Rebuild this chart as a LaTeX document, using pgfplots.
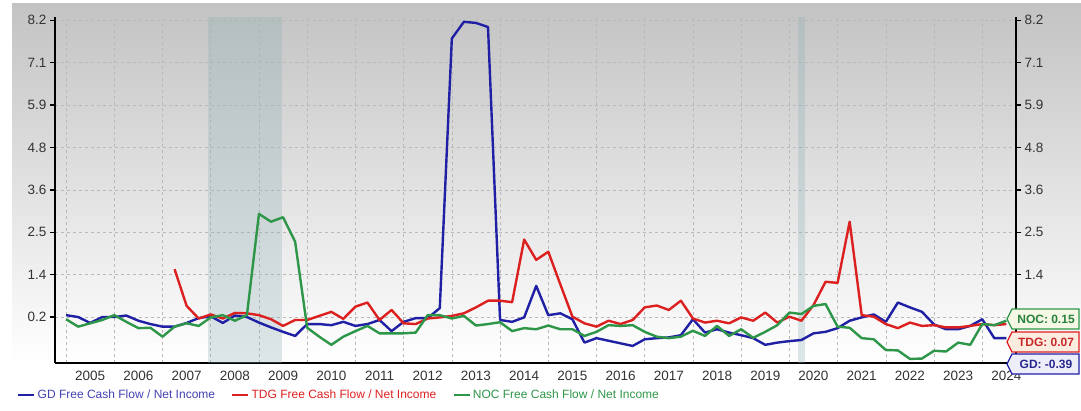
\documentclass[border=0pt]{standalone}
\usepackage{pgfplots}
\usepackage{pgfplotstable}
\pgfplotsset{compat=1.18}
\usepackage{fontspec}
\setmainfont{Liberation Sans}
\definecolor{gdblue}{RGB}{32,32,165}
\definecolor{tdgred}{RGB}{220,32,32}
\definecolor{nocgreen}{RGB}{46,150,72}
\definecolor{gridgray}{RGB}{185,185,185}
\definecolor{tickgray}{RGB}{51,51,51}
\definecolor{recess}{RGB}{145,175,180}

\pgfplotstableread{
x y
2005.00 0.25
2005.25 0.20
2005.50 0.04
2005.75 0.20
2006.00 0.20
2006.25 0.24
2006.50 0.10
2006.75 0.01
2007.00 -0.06
2007.25 -0.06
2007.50 0.04
2007.75 0.17
2008.00 0.22
2008.25 0.04
2008.50 0.24
2008.75 0.20
2009.00 0.05
2009.25 -0.08
2009.50 -0.20
2009.75 -0.31
2010.00 0.01
2010.25 0.01
2010.50 -0.02
2010.75 0.07
2011.00 -0.04
2011.25 0.01
2011.50 0.12
2011.75 -0.18
2012.00 0.07
2012.25 0.17
2012.50 0.17
2012.75 0.44
2013.00 7.71
2013.25 8.16
2013.50 8.13
2013.75 8.02
2014.00 0.12
2014.25 0.07
2014.50 0.19
2014.75 1.04
2015.00 0.25
2015.25 0.30
2015.50 0.14
2015.75 -0.49
2016.00 -0.37
2016.25 -0.44
2016.50 -0.51
2016.75 -0.58
2017.00 -0.40
2017.25 -0.37
2017.50 -0.35
2017.75 -0.29
2018.00 0.14
2018.25 -0.22
2018.50 -0.13
2018.75 -0.22
2019.00 -0.29
2019.25 -0.37
2019.50 -0.55
2019.75 -0.49
2020.00 -0.45
2020.25 -0.42
2020.50 -0.24
2020.75 -0.20
2021.00 -0.10
2021.25 0.10
2021.50 0.19
2021.75 0.27
2022.00 0.07
2022.25 0.59
2022.50 0.46
2022.75 0.34
2023.00 0.00
2023.25 -0.13
2023.50 -0.13
2023.75 -0.04
2024.00 0.14
2024.25 -0.37
2024.50 -0.37
}\gdtable

\pgfplotstableread{
x y
2007.25 1.49
2007.50 0.50
2007.75 0.16
2008.00 0.27
2008.25 0.16
2008.50 0.31
2008.75 0.30
2009.00 0.25
2009.25 0.14
2009.50 -0.04
2009.75 0.12
2010.00 0.12
2010.25 0.23
2010.50 0.34
2010.75 0.15
2011.00 0.48
2011.25 0.59
2011.50 0.12
2011.75 0.39
2012.00 0.03
2012.25 0.01
2012.50 0.16
2012.75 0.19
2013.00 0.23
2013.25 0.30
2013.50 0.46
2013.75 0.64
2014.00 0.64
2014.25 0.60
2014.50 2.29
2014.75 1.74
2015.00 1.96
2015.25 1.08
2015.50 0.21
2015.75 0.03
2016.00 -0.06
2016.25 0.10
2016.50 0.01
2016.75 0.12
2017.00 0.46
2017.25 0.51
2017.50 0.39
2017.75 0.64
2018.00 0.16
2018.25 0.05
2018.50 0.10
2018.75 0.03
2019.00 0.19
2019.25 0.10
2019.50 0.32
2019.75 0.05
2020.00 0.21
2020.25 0.10
2020.50 0.52
2020.75 1.15
2021.00 1.12
2021.25 2.77
2021.50 0.25
2021.75 0.21
2022.00 0.01
2022.25 -0.10
2022.50 0.05
2022.75 -0.04
2023.00 -0.02
2023.25 -0.08
2023.50 -0.08
2023.75 -0.04
2024.00 0.01
2024.25 -0.02
2024.50 0.01
}\tdgtable

\pgfplotstableread{
x y
2005.00 0.14
2005.25 -0.06
2005.50 0.03
2005.75 0.12
2006.00 0.25
2006.25 0.07
2006.50 -0.10
2006.75 -0.09
2007.00 -0.33
2007.25 -0.06
2007.50 0.03
2007.75 -0.04
2008.00 0.19
2008.25 0.25
2008.50 0.10
2008.75 0.25
2009.00 2.98
2009.25 2.77
2009.50 2.89
2009.75 2.23
2010.00 -0.09
2010.25 -0.33
2010.50 -0.55
2010.75 -0.33
2011.00 -0.18
2011.25 -0.04
2011.50 -0.24
2011.75 -0.24
2012.00 -0.24
2012.25 -0.22
2012.50 0.25
2012.75 0.25
2013.00 0.16
2013.25 0.23
2013.50 -0.03
2013.75 0.01
2014.00 0.06
2014.25 -0.18
2014.50 -0.10
2014.75 -0.13
2015.00 -0.03
2015.25 -0.13
2015.50 -0.13
2015.75 -0.31
2016.00 -0.20
2016.25 -0.02
2016.50 -0.04
2016.75 -0.02
2017.00 -0.20
2017.25 -0.33
2017.50 -0.37
2017.75 -0.33
2018.00 -0.17
2018.25 -0.31
2018.50 -0.04
2018.75 -0.31
2019.00 -0.13
2019.25 -0.36
2019.50 -0.20
2019.75 -0.02
2020.00 0.32
2020.25 0.28
2020.50 0.50
2020.75 0.55
2021.00 -0.06
2021.25 -0.09
2021.50 -0.37
2021.75 -0.40
2022.00 -0.69
2022.25 -0.70
2022.50 -0.93
2022.75 -0.92
2023.00 -0.71
2023.25 -0.73
2023.50 -0.49
2023.75 -0.55
2024.00 0.01
2024.25 -0.02
2024.50 0.10
}\noctable

\pgfplotsset{
  commonaxis/.style={
    at={(55pt,47pt)}, anchor=south west, scale only axis,
    width=961pt, height=346pt,
    xmin=2004.77, xmax=2024.70, ymin=-1.04, ymax=8.29,
    axis line style={-, line width=2pt, black},
    ytick={0.2,1.342857,2.485714,3.628571,4.771429,5.914286,7.057143,8.2},
    tick align=outside, major tick length=5pt,
    ytick style={line width=1.4pt, black},
    tick label style={font=\fontsize{13.5}{15}\selectfont, text=tickgray},
  }
}

\newcommand{\tagbox}[5]{%
  \filldraw[fill=#2, draw=#3, line width=1.3pt]
    (1007,#1) -- (1012,#1+10) -- (1079,#1+10) -- (1079,#1-10) -- (1012,#1-10) -- cycle;
  \node[text=#4, font=\bfseries\fontsize{12}{14}\selectfont, inner sep=0pt] at (1046,#1) {#5};
}

\begin{document}
\begin{tikzpicture}[x=1pt,y=1pt]
\useasboundingbox (0,0) rectangle (1081,410);
\shade[top color={rgb,255:red,195;green,195;blue,195},
       middle color={rgb,255:red,241;green,241;blue,241},
       bottom color=white] (12,47) rectangle (1081,406);

\begin{axis}[commonaxis,
  axis x line*=bottom, axis y line*=left,
  yticklabels={0.2,1.4,2.5,3.6,4.8,5.9,7.1,8.2},
  xtick={2005,2006,2007,2008,2009,2010,2011,2012,2013,2014,2015,2016,2017,2018,2019,2020,2021,2022,2023,2024},
  xticklabels={},
  xtick style={draw=none},
  grid=major,
  major grid style={gridgray, dashed, line width=0.6pt},
  extra x ticks={2005.5,2006.5,2007.5,2008.5,2009.5,2010.5,2011.5,2012.5,2013.5,2014.5,2015.5,2016.5,2017.5,2018.5,2019.5,2020.5,2021.5,2022.5,2023.5,2024.5},
  extra x tick labels={2005,2006,2007,2008,2009,2010,2011,2012,2013,2014,2015,2016,2017,2018,2019,2020,2021,2022,2023,2024},
  extra x tick style={grid=none, tick style={draw=none}},
  legend style={at={(-0.0395,-0.0925)}, anchor=west, draw=none, fill=none,
    legend columns=3, font=\fontsize{12}{14}\selectfont, inner sep=0pt,
    /tikz/every even column/.append style={column sep=14pt}},
  legend cell align=left,
  legend image code/.code={\draw[#1, line width=2.5pt] (0pt,0pt) -- (16pt,0pt);},
]
\addplot[forget plot, fill=recess, fill opacity=0.3, draw=none]
  coordinates {(2007.95,-1.04) (2007.95,8.29) (2009.48,8.29) (2009.48,-1.04)} -- cycle;
\addplot[forget plot, fill=recess, fill opacity=0.3, draw=none]
  coordinates {(2020.17,-1.04) (2020.17,8.29) (2020.33,8.29) (2020.33,-1.04)} -- cycle;

\addplot[gdblue, line width=2.4pt, mark=none, line join=round] table[x=x,y=y] {\gdtable};
\addlegendentry{\textcolor{gdblue!85!white}{GD Free Cash Flow / Net Income}}
\addplot[tdgred, line width=2.4pt, mark=none, line join=round] table[x=x,y=y] {\tdgtable};
\addlegendentry{\textcolor{tdgred}{TDG Free Cash Flow / Net Income}}
\addplot[nocgreen, line width=2.4pt, mark=none, line join=round] table[x=x,y=y] {\noctable};
\addlegendentry{\textcolor{nocgreen}{NOC Free Cash Flow / Net Income}}
\end{axis}

\begin{axis}[commonaxis,
  axis y line*=right, axis x line=none,
  yticklabels={,1.4,2.5,3.6,4.8,5.9,7.1,8.2},
]
\end{axis}

\tagbox{91}{{rgb,255:red,244;green,248;blue,228}}{nocgreen}{{rgb,255:red,38;green,130;blue,60}}{NOC: 0.15}
\tagbox{68}{{rgb,255:red,252;green,236;blue,224}}{tdgred}{{rgb,255:red,200;green,40;blue,40}}{TDG: 0.07}
\tagbox{46}{{rgb,255:red,238;green,238;blue,250}}{gdblue}{{rgb,255:red,40;green,40;blue,140}}{GD: -0.39}
\end{tikzpicture}
\end{document}
